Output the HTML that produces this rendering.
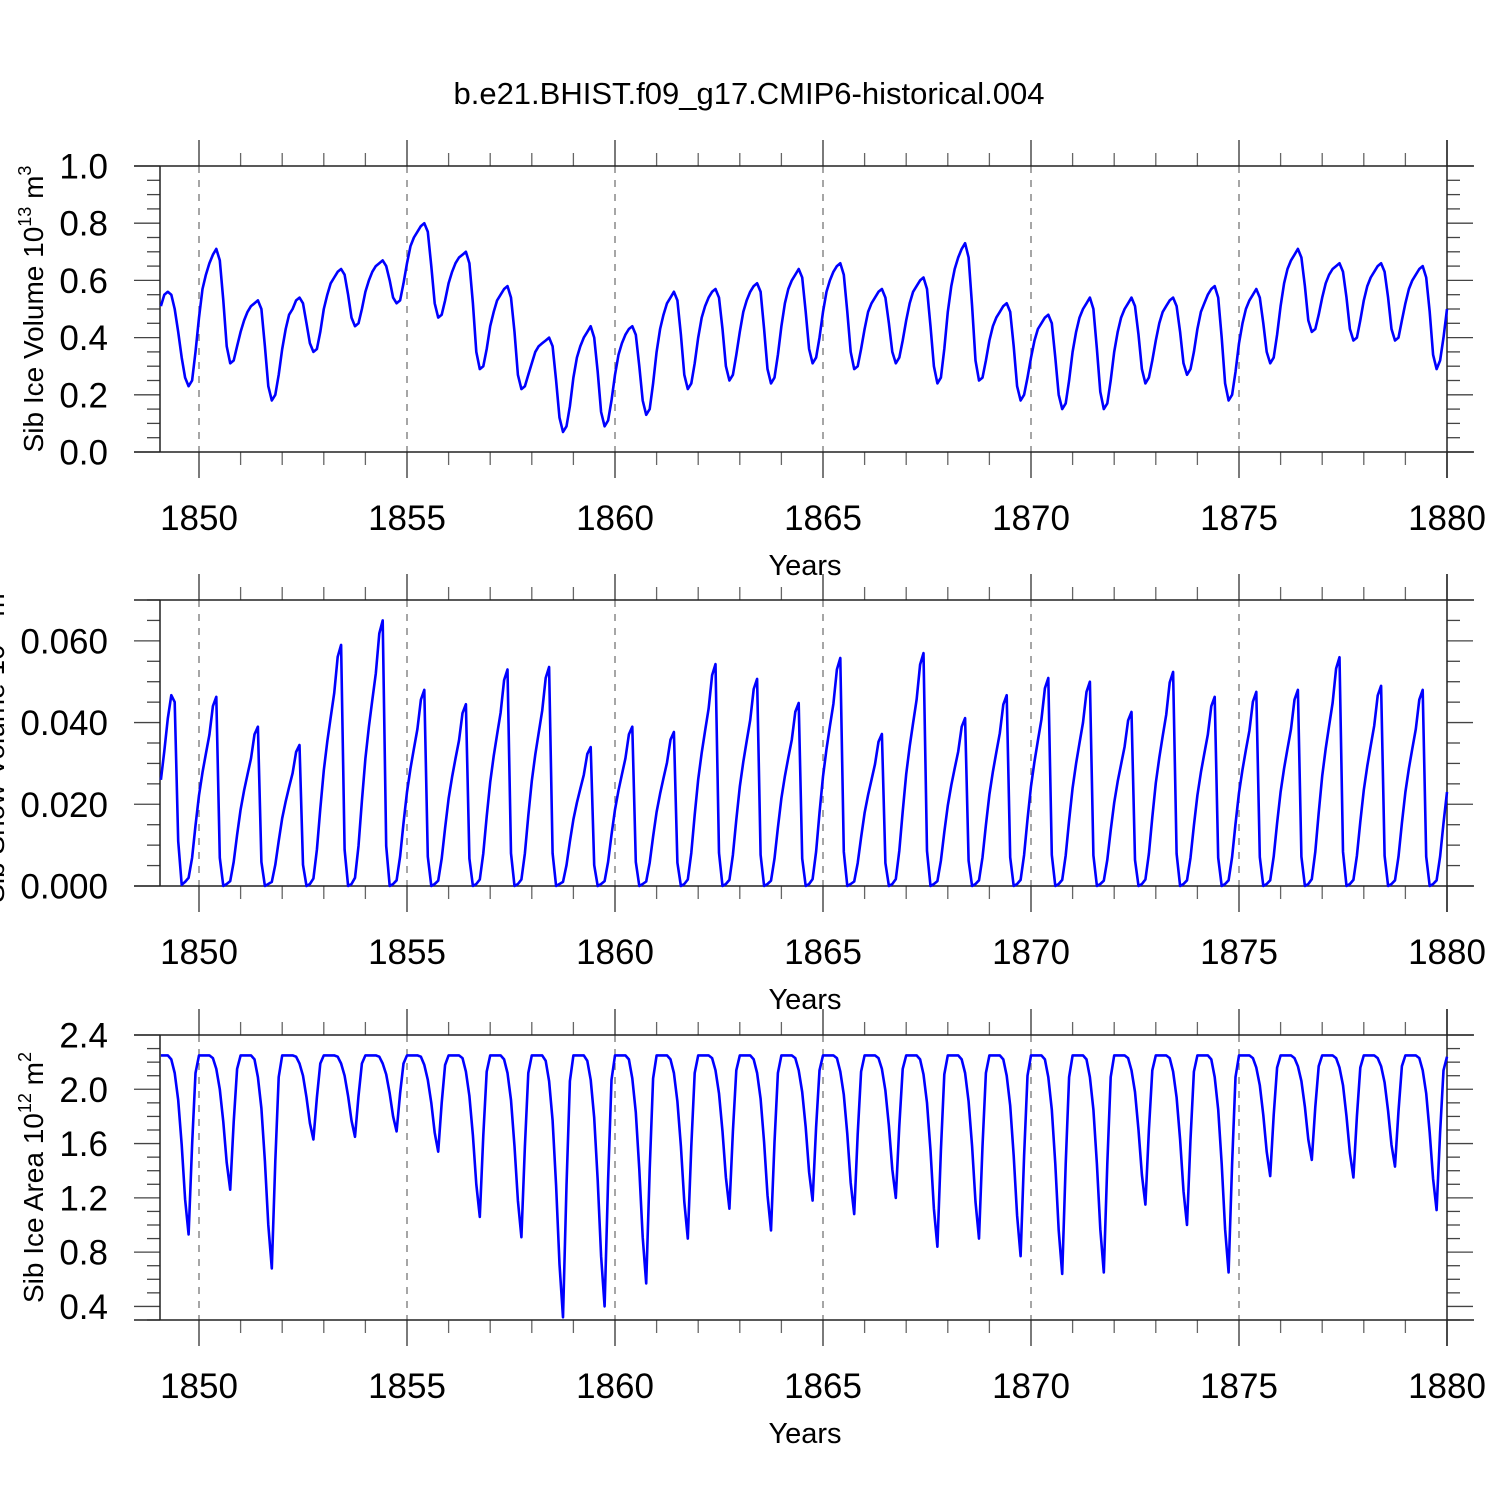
<!DOCTYPE html>
<html><head><meta charset="utf-8"><style>
html,body{margin:0;padding:0;background:#fff;}
svg{display:block;font-family:"Liberation Sans",sans-serif;}
</style></head><body>
<svg id="chart" width="1500" height="1500" viewBox="0 0 1500 1500" xmlns="http://www.w3.org/2000/svg">
<text x="749" y="104" font-size="31" text-anchor="middle">b.e21.BHIST.f09_g17.CMIP6-historical.004</text>
<g id="p1"></g>
<g id="p2"></g>
<g id="p3"></g>
</svg>
<script>
const years = [1850,1855,1860,1865,1870,1875,1880];
const iceVolume = [
.51,.55,.56,.55,.50,.42,.33,.26,.23,.25,.35,.47,
.57,.62,.66,.69,.71,.67,.53,.37,.31,.32,.37,.42,
.46,.49,.51,.52,.53,.50,.37,.23,.18,.20,.27,.36,
.43,.48,.50,.53,.54,.52,.45,.38,.35,.36,.42,.50,
.55,.59,.61,.63,.64,.62,.55,.47,.44,.45,.50,.56,
.60,.63,.65,.66,.67,.65,.60,.54,.52,.53,.59,.66,
.72,.75,.77,.79,.80,.77,.65,.52,.47,.48,.53,.59,
.63,.66,.68,.69,.70,.66,.52,.35,.29,.30,.36,.44,
.49,.53,.55,.57,.58,.54,.42,.27,.22,.23,.27,.31,
.35,.37,.38,.39,.40,.37,.25,.12,.07,.09,.16,.26,
.33,.37,.40,.42,.44,.40,.28,.14,.09,.11,.18,.27,
.34,.38,.41,.43,.44,.41,.30,.18,.13,.15,.24,.35,
.43,.48,.52,.54,.56,.53,.41,.27,.22,.24,.31,.40,
.47,.51,.54,.56,.57,.54,.43,.30,.25,.27,.34,.42,
.49,.53,.56,.58,.59,.56,.43,.29,.24,.26,.34,.44,
.52,.57,.60,.62,.64,.61,.49,.36,.31,.33,.40,.49,
.56,.60,.63,.65,.66,.62,.49,.35,.29,.30,.36,.43,
.49,.52,.54,.56,.57,.54,.45,.35,.31,.33,.39,.46,
.52,.56,.58,.60,.61,.57,.44,.30,.24,.26,.36,.49,
.58,.64,.68,.71,.73,.68,.51,.32,.25,.26,.32,.39,
.44,.47,.49,.51,.52,.49,.37,.23,.18,.20,.26,.33,
.39,.43,.45,.47,.48,.45,.33,.20,.15,.17,.25,.35,
.42,.47,.50,.52,.54,.50,.36,.21,.15,.17,.25,.35,
.42,.47,.50,.52,.54,.51,.41,.29,.24,.26,.32,.39,
.45,.49,.51,.53,.54,.51,.42,.31,.27,.29,.35,.43,
.49,.52,.55,.57,.58,.54,.40,.24,.18,.20,.28,.38,
.45,.50,.53,.55,.57,.54,.45,.35,.31,.33,.41,.51,
.59,.64,.67,.69,.71,.68,.58,.46,.42,.43,.48,.54,
.59,.62,.64,.65,.66,.63,.54,.43,.39,.40,.46,.53,
.58,.61,.63,.65,.66,.63,.54,.43,.39,.40,.46,.52,
.57,.60,.62,.64,.65,.61,.49,.34,.29,.32,.40,.50];
const snowVolume = [
.026,.033,.041,.0467,.045,.011,.0003,.001,.002,.0069,.0148,.0222,
.0278,.0324,.037,.044,.0463,.0069,0,.0005,.0012,.0059,.0125,.0187,
.0234,.0273,.0312,.0371,.039,.0059,0,.0005,.001,.0052,.011,.0166,
.0207,.0242,.0276,.0328,.0345,.0052,0,.0005,.0018,.0089,.0189,.0283,
.0354,.0413,.0472,.0561,.059,.0089,0,.0005,.002,.0098,.0208,.0312,
.039,.0455,.052,.0618,.065,.0098,0,.0005,.0014,.0072,.0154,.023,
.0288,.0336,.0384,.0456,.048,.0072,0,.0005,.0013,.0067,.0142,.0214,
.0267,.0312,.0356,.0423,.0445,.0067,0,.0005,.0016,.008,.017,.0254,
.0318,.0371,.0424,.0504,.053,.008,0,.0005,.0016,.008,.0172,.0257,
.0322,.0375,.0429,.0509,.0536,.008,0,.0005,.001,.0051,.0109,.0163,
.0204,.0238,.0272,.0323,.034,.0051,0,.0005,.0012,.0059,.0125,.0187,
.0234,.0273,.0312,.0371,.039,.0059,0,.0005,.0011,.0057,.0121,.0181,
.0226,.0264,.0302,.0358,.0377,.0057,0,.0005,.0016,.0081,.0174,.0261,
.0326,.038,.0434,.0516,.0543,.0081,0,.0005,.0015,.0076,.0162,.0243,
.0304,.0355,.0406,.0482,.0507,.0076,0,.0005,.0013,.0067,.0143,.0215,
.0269,.0314,.0358,.0426,.0448,.0067,0,.0005,.0017,.0084,.0179,.0268,
.0335,.0391,.0446,.053,.0558,.0084,0,.0005,.0011,.0056,.0119,.0179,
.0223,.026,.0298,.0353,.0372,.0056,0,.0005,.0017,.0086,.0182,.0274,
.0342,.0399,.0456,.0542,.057,.0086,0,.0005,.0012,.0062,.0132,.0197,
.0247,.0288,.0329,.039,.0411,.0062,0,.0005,.0014,.007,.0149,.0224,
.028,.0327,.0374,.0444,.0467,.007,0,.0005,.0015,.0076,.0163,.0244,
.0305,.0356,.0407,.0484,.0509,.0076,0,.0005,.0015,.0075,.016,.024,
.03,.035,.04,.0475,.05,.0075,0,.0005,.0013,.0064,.0136,.0204,
.0256,.0298,.0341,.0405,.0426,.0064,0,.0005,.0016,.0079,.0168,.0252,
.0314,.0367,.0419,.0498,.0524,.0079,0,.0005,.0014,.0069,.0148,.0222,
.0278,.0324,.037,.044,.0463,.0069,0,.0005,.0014,.0071,.0152,.0228,
.0285,.0333,.038,.0451,.0475,.0071,0,.0005,.0014,.0072,.0154,.023,
.0288,.0336,.0384,.0456,.048,.0072,0,.0005,.0017,.0084,.0179,.0269,
.0336,.0392,.0448,.0532,.056,.0084,0,.0005,.0015,.0074,.0157,.0235,
.0294,.0343,.0392,.0466,.049,.0074,0,.0005,.0014,.0072,.0154,.023,
.0288,.0336,.0384,.0456,.048,.0072,0,.0005,.0014,.0072,.0154,.023];
const iceArea = [
2.25,2.25,2.25,2.22,2.12,1.92,1.59,1.19,.93,1.59,2.12,2.25,
2.25,2.25,2.25,2.23,2.15,2.00,1.76,1.46,1.26,1.76,2.15,2.25,
2.25,2.25,2.25,2.22,2.09,1.86,1.47,1.00,.68,1.47,2.09,2.25,
2.25,2.25,2.25,2.24,2.19,2.10,1.94,1.75,1.63,1.94,2.19,2.25,
2.25,2.25,2.25,2.24,2.19,2.10,1.95,1.77,1.65,1.95,2.19,2.25,
2.25,2.25,2.25,2.24,2.19,2.11,1.97,1.80,1.69,1.97,2.19,2.25,
2.25,2.25,2.25,2.24,2.18,2.07,1.90,1.68,1.54,1.90,2.18,2.25,
2.25,2.25,2.25,2.23,2.13,1.95,1.66,1.30,1.06,1.66,2.13,2.25,
2.25,2.25,2.25,2.22,2.12,1.92,1.58,1.18,.91,1.58,2.12,2.25,
2.25,2.25,2.25,2.21,2.06,1.77,1.29,.71,.32,1.29,2.06,2.25,
2.25,2.25,2.25,2.21,2.07,1.79,1.33,.77,.40,1.33,2.07,2.25,
2.25,2.25,2.25,2.22,2.08,1.83,1.41,.91,.57,1.41,2.08,2.25,
2.25,2.25,2.25,2.22,2.12,1.91,1.58,1.17,.90,1.58,2.12,2.25,
2.25,2.25,2.25,2.23,2.14,1.97,1.69,1.35,1.12,1.69,2.14,2.25,
2.25,2.25,2.25,2.22,2.12,1.93,1.61,1.22,.96,1.61,2.12,2.25,
2.25,2.25,2.25,2.23,2.14,1.98,1.72,1.39,1.18,1.72,2.14,2.25,
2.25,2.25,2.25,2.23,2.13,1.96,1.67,1.31,1.08,1.67,2.13,2.25,
2.25,2.25,2.25,2.23,2.15,1.99,1.73,1.41,1.20,1.73,2.15,2.25,
2.25,2.25,2.25,2.22,2.11,1.90,1.55,1.12,.84,1.55,2.11,2.25,
2.25,2.25,2.25,2.22,2.12,1.91,1.58,1.17,.90,1.58,2.12,2.25,
2.25,2.25,2.25,2.22,2.10,1.88,1.51,1.07,.77,1.51,2.10,2.25,
2.25,2.25,2.25,2.22,2.09,1.85,1.45,.96,.64,1.45,2.09,2.25,
2.25,2.25,2.25,2.22,2.09,1.85,1.45,.97,.65,1.45,2.09,2.25,
2.25,2.25,2.25,2.23,2.14,1.98,1.70,1.37,1.15,1.70,2.14,2.25,
2.25,2.25,2.25,2.23,2.13,1.94,1.63,1.25,1.00,1.63,2.13,2.25,
2.25,2.25,2.25,2.22,2.09,1.85,1.45,.97,.65,1.45,2.09,2.25,
2.25,2.25,2.25,2.23,2.16,2.03,1.81,1.54,1.36,1.81,2.16,2.25,
2.25,2.25,2.25,2.23,2.17,2.06,1.87,1.63,1.48,1.87,2.17,2.25,
2.25,2.25,2.25,2.23,2.16,2.03,1.80,1.53,1.35,1.80,2.16,2.25,
2.25,2.25,2.25,2.23,2.17,2.05,1.84,1.59,1.43,1.84,2.17,2.25,
2.25,2.25,2.25,2.23,2.14,1.97,1.68,1.34,1.11,1.68,2.14,2.24];
const volTicks = ["0.0","0.2","0.4","0.6","0.8","1.0"];
const snowTicks = ["0.000","0.020","0.040","0.060"];
const areaTicks = ["0.4","0.8","1.2","1.6","2.0","2.4"];

const NS = "http://www.w3.org/2000/svg";
const X0 = 160, X1 = 1447;
function xs(t){ return 199 + (t - 1850) * 41.6; }
function mk(parent, tag, attrs){
  const e = document.createElementNS(NS, tag);
  for (const k in attrs) e.setAttribute(k, attrs[k]);
  parent.appendChild(e); return e;
}
function panel(gid, top, bot, ymin, ymax, majStep, minStep, labels, data, title, titleX, series){
  const g = document.getElementById(gid);
  const ys = v => bot - (v - ymin) / (ymax - ymin) * (bot - top);
  for (let yr = 1850; yr < 1880; yr += 5){
    const l = mk(g, 'line', {x1:xs(yr), x2:xs(yr), y1:top, y2:bot, stroke:'#777', 'stroke-width':1.3, 'stroke-dasharray':'7,7'});
    
    
  }
  for (let yr = 1849; yr <= 1880; yr++){
    const major = yr % 5 === 0;
    const len = major ? 26 : 13;
    const col = major ? '#333' : '#666';
    if (xs(yr) < X0 - 1) continue;
    mk(g, 'line', {x1:xs(yr), x2:xs(yr), y1:top - len, y2:top, stroke:col, 'stroke-width':1.3});
    mk(g, 'line', {x1:xs(yr), x2:xs(yr), y1:bot, y2:bot + len, stroke:col, 'stroke-width':1.3});
  }
  years.forEach(yr => {
    const t = mk(g, 'text', {x:xs(yr), y:bot + 78, 'font-size':35, 'text-anchor':'middle'});
    t.textContent = yr;
    
    
  });
  const nMin = Math.round((ymax - ymin) / minStep);
  for (let i = 0; i <= nMin; i++){
    const v = ymin + i * minStep;
    const r = (v + 1e-9) / majStep;
    const major = Math.abs(r - Math.round(r)) < 1e-6;
    const len = major ? 26 : 13;
    const y = ys(v);
    mk(g, 'line', {x1:X0 - len, x2:X0, y1:y, y2:y, stroke:'#444', 'stroke-width':1.3});
    mk(g, 'line', {x1:X1, x2:X1 + len, y1:y, y2:y, stroke:'#444', 'stroke-width':1.3});
  }
  labels.forEach(s => {
    const t = mk(g, 'text', {x:108, y:ys(parseFloat(s)) + 12.5, 'font-size':35, 'text-anchor':'end'});
    t.textContent = s;
    
    
  });
  mk(g, 'line', {x1:134, x2:1474, y1:top, y2:top, stroke:'#222', 'stroke-width':1.5});
  mk(g, 'line', {x1:134, x2:1474, y1:bot, y2:bot, stroke:'#222', 'stroke-width':1.5});
  mk(g, 'line', {x1:X0, x2:X0, y1:top, y2:bot, stroke:'#222', 'stroke-width':1.5});
  mk(g, 'line', {x1:X1, x2:X1, y1:top - 26, y2:bot + 26, stroke:'#222', 'stroke-width':1.5});
  const pts = data.map((v, i) => xs(1849 + (i + 1) / 12).toFixed(1) + ',' + ys(v).toFixed(1)).join(' ');
  const pl = mk(g, 'polyline', {points:pts, fill:'none', stroke:'#0000ff', 'stroke-width':2.6, 'stroke-linejoin':'round'});
  
  
  const xt = mk(g, 'text', {x:805, y:bot + 123, 'font-size':29, 'text-anchor':'middle'});
  xt.textContent = 'Years';
  
  
  const cy = (top + bot) / 2;
  const yt = mk(g, 'text', {x:titleX, y:cy, 'font-size':28, 'text-anchor':'middle', transform:'rotate(-90 ' + titleX + ' ' + cy + ')'});
  yt.innerHTML = title;
  
  
}
panel('p1', 166, 452, 0, 1.0, 0.2, 0.05, volTicks, iceVolume,
  'Sib Ice Volume 10<tspan dy="-12" font-size="18">13</tspan><tspan dy="12"> m</tspan><tspan dy="-12" font-size="18">3</tspan>', 43, 'ice-volume-line');
panel('p2', 600, 886, 0, 0.07, 0.02, 0.005, snowTicks, snowVolume,
  'Sib Snow Volume 10<tspan dy="-12" font-size="18">12</tspan><tspan dy="12"> m</tspan><tspan dy="-12" font-size="18">3</tspan>', 4, 'snow-volume-line');
panel('p3', 1035, 1320, 0.3, 2.4, 0.4, 0.1, areaTicks, iceArea,
  'Sib Ice Area 10<tspan dy="-12" font-size="18">12</tspan><tspan dy="12"> m</tspan><tspan dy="-12" font-size="18">2</tspan>', 43, 'ice-area-line');
</script>
</body></html>
